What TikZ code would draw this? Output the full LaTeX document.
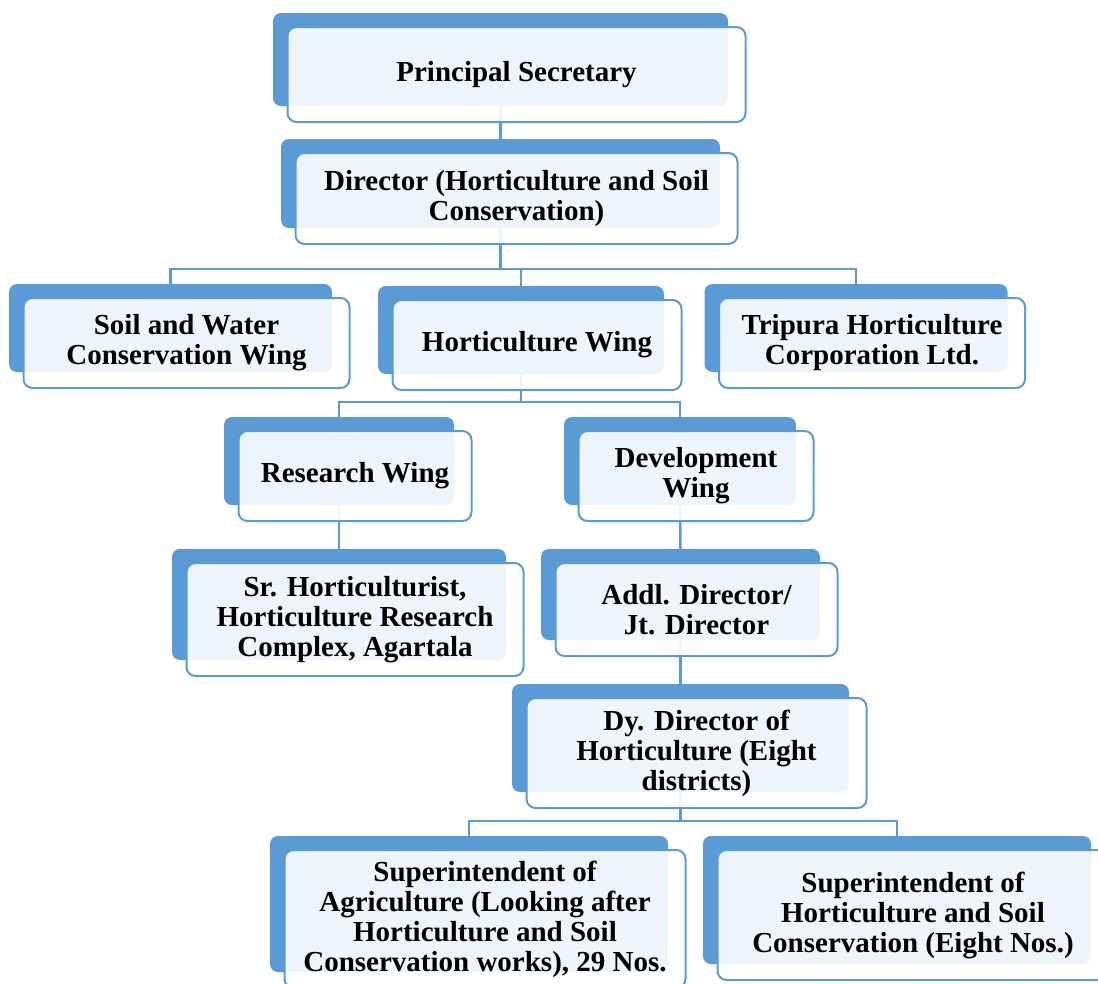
\documentclass[tikz,border=0pt]{standalone}
\usepackage{fontspec}
\setmainfont{Liberation Serif}
\usetikzlibrary{backgrounds}
\definecolor{wingblue}{RGB}{91,155,213}

\begin{document}
\begin{tikzpicture}[x=1pt, y=-1pt,
    back/.style 2 args = {fill=wingblue, rounded corners=8pt, minimum width=#1, minimum height=#2},
    front/.style 2 args = {draw=wingblue, line width=2pt, fill=white, fill opacity=0.9, text opacity=1,
        rounded corners=9pt, minimum width=#1+3pt, minimum height=#2+2pt, align=center,
        font=\fontsize{29}{30}\selectfont\bfseries},
    link/.style = {draw=wingblue, line width=2.5pt}]

    \clip (0,0) rectangle (1098,983);

    % top
    \node[back={455pt}{93pt}] (psB) at (500.5,59.5) {};
    \node[front={455pt}{93pt}] (ps) at ([shift={(16,15)}]psB.center) {Principal Secretary};

    \node[back={439pt}{89pt}] (dirB) at (500.5,183.5) {};
    \node[front={439pt}{89pt}] (dir) at ([shift={(16,15)}]dirB.center) {Director (Horticulture and Soil\\Conservation)};

    % wings
    \node[back={323pt}{88pt}] (soilB) at (170.5,328) {};
    \node[front={323pt}{88pt}] (soil) at ([shift={(16,15)}]soilB.center) {Soil and Water\\Conservation Wing};

    \node[back={286pt}{88pt}] (hortB) at (521,330) {};
    \node[front={286pt}{88pt}] (hort) at ([shift={(16,15)}]hortB.center) {Horticulture Wing};

    \node[back={303pt}{88pt}] (tripB) at (856,328) {};
    \node[front={303pt}{88pt}] (trip) at ([shift={(16,15)}]tripB.center) {Tripura Horticulture\\Corporation Ltd.};

    \node[back={230pt}{88pt}] (resB) at (339,461) {};
    \node[front={230pt}{88pt}] (res) at ([shift={(16,15)}]resB.center) {Research Wing};

    \node[back={232pt}{88pt}] (devB) at (680,461) {};
    \node[front={232pt}{88pt}] (dev) at ([shift={(16,15)}]devB.center) {Development\\Wing};

    % officers
    \node[back={334pt}{111pt}] (srhB) at (339,604.5) {};
    \node[front={334pt}{111pt}] (srh) at ([shift={(16,15)}]srhB.center) {Sr. Horticulturist,\\Horticulture Research\\Complex, Agartala};

    \node[back={279pt}{91pt}] (addlB) at (680.5,594.5) {};
    \node[front={279pt}{91pt}] (addl) at ([shift={(16,15)}]addlB.center) {Addl. Director/\\Jt. Director};

    \node[back={337pt}{108pt}] (dyB) at (680.5,738) {};
    \node[front={337pt}{108pt}] (dy) at ([shift={(16,15)}]dyB.center) {Dy. Director of\\Horticulture (Eight\\districts)};

    \node[back={398pt}{136pt}] (supaB) at (469,904) {};
    \node[front={398pt}{136pt}] (supa) at ([shift={(16,15)}]supaB.center) {Superintendent of\\Agriculture (Looking after\\Horticulture and Soil\\Conservation works), 29 Nos.};

    \node[back={388pt}{128pt}] (suphB) at (897,900) {};
    \node[front={388pt}{128pt}] (suph) at ([shift={(16,15)}]suphB.center) {Superintendent of\\Horticulture and Soil\\Conservation (Eight Nos.)};

    % connectors behind the boxes
    \begin{scope}[on background layer]
        \coordinate (bar1) at (0,269);
        \coordinate (bar2) at (0,402);
        \coordinate (bar3) at (0,821);

        \draw[link] (psB.south) -- (dirB.north);

        \draw[link] (dirB.south) -- (dirB.south |- bar1) -| (soilB.north);
        \draw[link] (dirB.south |- bar1) -| (hortB.north);
        \draw[link] (dirB.south |- bar1) -| (tripB.north);

        \draw[link] (hortB.south) -- (hortB.south |- bar2) -| (resB.north);
        \draw[link] (hortB.south |- bar2) -| (devB.north);

        \draw[link] (resB.south) -- (srhB.north);
        \draw[link] (devB.south) -- (addlB.north);
        \draw[link] (addlB.south) -- (dyB.north);

        \draw[link] (dyB.south) -- (dyB.south |- bar3) -| (supaB.north);
        \draw[link] (dyB.south |- bar3) -| (suphB.north);
    \end{scope}
\end{tikzpicture}
\end{document}
